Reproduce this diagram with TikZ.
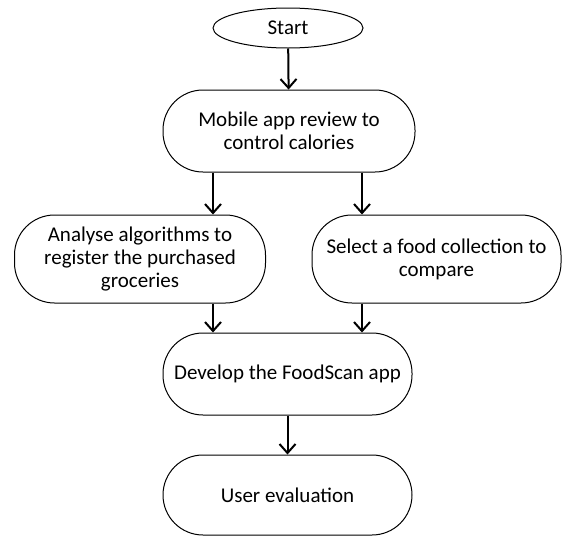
\documentclass[tikz,border=0pt]{standalone}
\usepackage{fontspec}
\setmainfont{Carlito}
\usepackage{tikz}
\usetikzlibrary{shapes.geometric,arrows.meta}

\begin{document}
\begin{tikzpicture}[x=0.5pt,y=-0.5pt,
  stadium/.style={draw, line width=0.5pt, rounded corners=20pt, align=center,
    inner sep=0pt, font=\fontsize{10.5}{11.6}\selectfont},
  arr/.style={-{Straight Barb[length=4.5pt,width=8pt]}, line width=1pt}]
\useasboundingbox (0,0) rectangle (562,536);
\node[draw, ellipse, line width=0.5pt, minimum width=75pt, minimum height=20pt, inner sep=0pt,
  font=\fontsize{10.5}{11.6}\selectfont] (start) at (288,28) {Start};
\node[stadium, minimum width=126pt, minimum height=41pt] (review) at (289,131)
  {Mobile app review to\\control calories};
\node[stadium, minimum width=125.5pt, minimum height=44pt] (analyse) at (140,259)
  {Analyse algorithms to\\register the purchased\\groceries};
\node[stadium, minimum width=124.5pt, minimum height=44pt] (select) at (436.5,259)
  {Select a food collection to\\compare};
\node[stadium, minimum width=124.5pt, minimum height=41pt] (develop) at (287.5,374)
  {Develop the FoodScan app};
\node[stadium, minimum width=124.5pt, minimum height=40pt] (user) at (287.5,495)
  {User evaluation};
\coordinate (lx) at (213,0);
\coordinate (rx) at (362,0);
\draw[arr] (start) -- (review);
\draw[arr] (review.south -| lx) -- (analyse.north -| lx);
\draw[arr] (review.south -| rx) -- (select.north -| rx);
\draw[arr] (analyse.south -| lx) -- (develop.north -| lx);
\draw[arr] (select.south -| rx) -- (develop.north -| rx);
\draw[arr] (develop) -- (user);
\end{tikzpicture}
\end{document}
